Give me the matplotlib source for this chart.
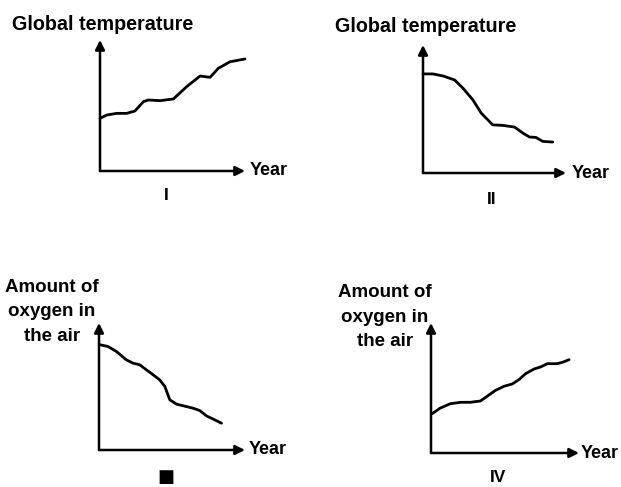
import matplotlib.pyplot as plt

plt.rcParams['font.family'] = ['Liberation Sans', 'DejaVu Sans']

# curve values (year and value both on a 0-100 scale)
year_1 = [0, 4.6, 11.5, 18.4, 24.1, 29.9, 33.3, 41.4, 50.6, 59.8, 69, 75.9, 81.6, 89.7, 100]
temp_1 = [40.2, 42.7, 44, 44, 45.8, 52.9, 54.2, 53.7, 55, 64.4, 72.5, 71.5, 78.4, 83.4, 85.5]

year_2 = [0, 7, 14, 22.1, 27.9, 34.9, 40.7, 48.8, 55.8, 64, 69.8, 74.5, 79, 83.7, 90.7]
temp_2 = [77.4, 77.4, 75.8, 72.7, 66.3, 57.1, 46.8, 37.6, 37.2, 35.9, 31.2, 28.1, 27.8, 24.7, 24.2]

year_3 = [0.5, 6.2, 11.9, 18.7, 23.3, 27.9, 32.5, 37.1, 41.6, 45.1, 48.5, 53.1, 59.9, 64.5, 69.1, 73.7, 79.4, 83.9]
oxy_3 = [82.9, 81.5, 77.6, 71, 68.4, 67.1, 63.1, 59.2, 55.2, 50, 39.5, 36.1, 34.2, 32.9, 31, 26.8, 23.7, 21.1]

year_4 = [0.7, 6.3, 13.1, 19.9, 26.6, 33.4, 37.9, 43.6, 49.3, 54.9, 59.4, 63.9, 69.6, 74.1, 78.6, 85.4, 89.9, 93.3]
oxy_4 = [30.2, 34.6, 37.9, 39, 39, 40, 43.6, 48.2, 51.3, 53.1, 56.4, 61, 64.6, 66.2, 68.7, 68.7, 70.2, 71.8]

W, H = 621, 487
fig = plt.figure(figsize=(W / 100, H / 100), dpi=100)


def panel(x0, y0, w, h, xs, ys, ylabel, lx, ly, numeral, nx, ny,
          label_align='left', label_size=13.5, year_gap=4):
    # x0, y0: origin of the axes in pixels from the top left
    ax = fig.add_axes([x0 / W, 1 - y0 / H, w / W, h / H])
    ax.set_xlim(0, 100)
    ax.set_ylim(0, 100)
    ax.axis('off')
    ax.plot(xs, ys, color='black', lw=2.0, solid_capstyle='round',
            solid_joinstyle='round', clip_on=False)
    arrow = dict(arrowstyle='-|>', color='black', lw=1.8, mutation_scale=14,
                 shrinkA=0, shrinkB=0)
    ax.annotate('', xy=(1, 0), xytext=(0, 0), xycoords='axes fraction',
                arrowprops=arrow, annotation_clip=False)
    ax.annotate('', xy=(0, 1), xytext=(0, 0), xycoords='axes fraction',
                arrowprops=arrow, annotation_clip=False)
    ax.annotate('Year', xy=(1, 0), xycoords='axes fraction',
                xytext=(year_gap * 0.72, 0), textcoords='offset points',
                fontsize=13, fontweight='bold', va='center', ha='left',
                annotation_clip=False)
    fig.text(lx / W, 1 - ly / H, ylabel, fontsize=label_size, fontweight='bold',
             ha=label_align, va='center', linespacing=1.55,
             multialignment='center')
    if numeral == '■':
        fig.text(nx / W, 1 - ny / H, numeral, fontsize=13, family='DejaVu Sans',
                 ha='center', va='center')
    else:
        fig.text(nx / W, 1 - ny / H, numeral, fontsize=12.5, fontweight='bold',
                 ha='center', va='center')


panel(100, 171, 145, 131, year_1, temp_1, 'Global temperature', 12, 24, 'I', 166, 195,
      label_size=14.2, year_gap=5)
panel(423, 173, 143, 128, year_2, temp_2, 'Global temperature', 335, 27, 'II', 492, 200,
      label_size=14.2, year_gap=6)
panel(99, 450, 146, 127, year_3, oxy_3, 'Amount of\noxygen in\nthe air', 52, 312,
      '■', 166, 477, label_align='center', year_gap=4)
panel(431, 453, 148, 130, year_4, oxy_4, 'Amount of\noxygen in\nthe air', 385, 317,
      'IV', 498, 478, label_align='center', year_gap=2)

fig.savefig('out.png', dpi=100, facecolor='white')
